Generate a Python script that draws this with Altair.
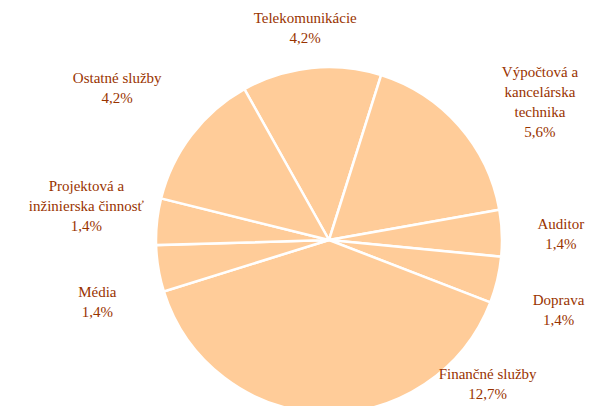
import math
import altair as alt
import pandas as pd

categories = ["Telekomunikácie", "Výpočtová a\nkancelárska\ntechnika", "Auditor", "Doprava",
              "Finančné služby", "Média", "Projektová a\ninžinierska činnosť", "Ostatné služby"]
values = [4.2, 5.6, 1.4, 1.4, 12.7, 1.4, 1.4, 4.2]

df = pd.DataFrame({
    "idx": list(range(len(categories))),
    "category": categories,
    "value": values,
})
df["label"] = [c + "\n" + f"{v:.1f}".replace(".", ",") + "%" for c, v in zip(categories, values)]

start = 2 * math.pi - 0.511
theta_scale = alt.Scale(range=[start, start + 2 * math.pi])
CX, CY = 321, 232
FONT = "Liberation Serif"
COLOR = "#993300"
LH = 20

base = alt.Chart(df)

pie = base.mark_arc(radius=173, fill="#FFCC99", stroke="white", strokeWidth=2.5).encode(
    theta=alt.Theta("value:Q", stack=True, scale=theta_scale),
    order=alt.Order("idx:Q"),
    x=alt.value(CX),
    y=alt.value(CY),
)

# per-label placement (style): radius, dx, dy (dy relative to block centre)
placement = {
    0: (213, -2, 0),
    1: (258, 17, 32),
    2: (237, -5, 3),
    3: (240, -4, 15),
    4: (219, 166, -75),
    5: (240, 5, 22),
    6: (244, 0, -8),
    7: (260, -5, 6),
}

layers = [pie]
for i, (r, dx, dy) in placement.items():
    n_lines = df["label"][i].count("\n") + 1
    t = base.transform_window(
        cum="sum(value)", sort=[alt.SortField("idx")],
        frame=[None, 0],
    ).transform_calculate(
        mid="datum.cum - datum.value / 2"
    ).transform_filter(
        alt.datum.idx == i
    ).mark_text(
        radius=r, dx=dx, dy=dy - (n_lines - 1) * LH / 2, font=FONT, fontSize=15, color=COLOR,
        lineBreak="\n", lineHeight=LH, align="center", baseline="middle",
    ).encode(
        theta=alt.Theta("mid:Q", stack=None, scale=theta_scale),
        text="label:N",
        x=alt.value(CX),
        y=alt.value(CY),
    )
    layers.append(t)

chart = alt.layer(*layers).properties(
    width=577, height=398, padding=0, autosize=alt.AutoSizeParams(type="none"),
).configure_view(stroke=None).configure_text(font=FONT)

chart.save("out.html", embed_options={"renderer": "svg", "actions": False})
